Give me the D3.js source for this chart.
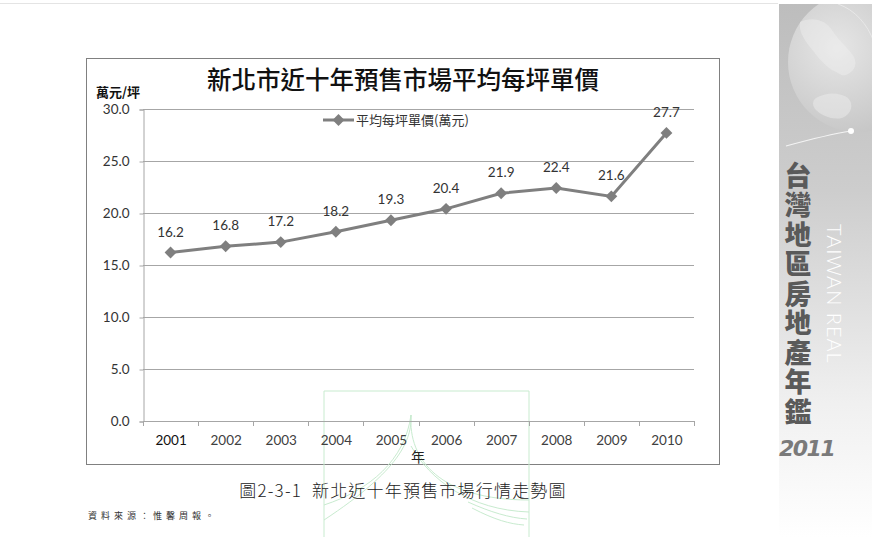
<!DOCTYPE html>
<html>
<head>
<meta charset="utf-8">
<script src="https://cdn.jsdelivr.net/npm/d3@7"></script>
<style>
  body { margin: 0; background: #fff; }
  svg { display: block; }
  .tick text { font-family: Lato, "Open Sans", sans-serif; }
</style>
</head>
<body>
<div id="chart"></div>
<script>
// data
const years = ["2001", "2002", "2003", "2004", "2005", "2006", "2007", "2008", "2009", "2010"];
const prices = [16.2, 16.8, 17.2, 18.2, 19.3, 20.4, 21.9, 22.4, 21.6, 27.7];
const yTicks = [0, 5, 10, 15, 20, 25, 30];
const sideTitle = "台灣地區房地產年鑑";

const W = 872, H = 537;
const cjk = '"Noto Sans CJK TC", "Noto Sans CJK SC", sans-serif';

const svg = d3.select("#chart").append("svg")
    .attr("width", W)
    .attr("height", H);

const defs = svg.append("defs");

// ---- page decorations ----
svg.append("line")
    .attr("x1", 0).attr("x2", 778)
    .attr("y1", 3.5).attr("y2", 3.5)
    .attr("stroke", "#e4e4e4");

// side bar gradient
const sideGrad = defs.append("linearGradient")
    .attr("id", "sideGrad")
    .attr("x1", 0).attr("y1", 0).attr("x2", 0).attr("y2", 1);
sideGrad.append("stop").attr("offset", "0%").attr("stop-color", "#bdbdbd");
sideGrad.append("stop").attr("offset", "35%").attr("stop-color", "#cdcdcd");
sideGrad.append("stop").attr("offset", "75%").attr("stop-color", "#f0f0f0");
sideGrad.append("stop").attr("offset", "100%").attr("stop-color", "#ffffff");

svg.append("rect")
    .attr("x", 779).attr("y", 4)
    .attr("width", W - 779).attr("height", H - 4)
    .attr("fill", "url(#sideGrad)");

// globe
const globeGrad = defs.append("radialGradient")
    .attr("id", "globeGrad")
    .attr("cx", "35%").attr("cy", "40%").attr("r", "65%");
globeGrad.append("stop").attr("offset", "0%").attr("stop-color", "#e6e6e6");
globeGrad.append("stop").attr("offset", "100%").attr("stop-color", "#c6c6c6");

const side = svg.append("g");
side.append("clipPath").attr("id", "sideClip")
    .append("rect").attr("x", 779).attr("y", 4).attr("width", 93).attr("height", 200);
const globe = side.append("g").attr("clip-path", "url(#sideClip)");
globe.append("circle")
    .attr("cx", 858).attr("cy", 62).attr("r", 70)
    .attr("fill", "url(#globeGrad)");
// rough continents
globe.append("path")
    .attr("d", "M800,22 C812,16 826,20 832,30 C838,40 846,46 852,54 C858,62 856,70 848,74 C842,78 838,72 832,70 C826,66 820,60 814,52 C808,44 798,34 800,22 Z")
    .attr("fill", "#f0f0f0").attr("opacity", 0.45);
globe.append("path")
    .attr("d", "M816,98 C826,92 840,92 848,98 C854,104 852,114 842,118 C832,120 822,116 816,110 C812,106 812,101 816,98 Z")
    .attr("fill", "#f0f0f0").attr("opacity", 0.45);
globe.append("path")
    .attr("d", "M786,146 C808,140 832,134 851,131")
    .attr("fill", "none").attr("stroke", "#f4f4f4").attr("stroke-width", 1.2);
globe.append("path")
    .attr("d", "M838,4 C872,16 888,60 876,110")
    .attr("fill", "none").attr("stroke", "#e8e8e8").attr("stroke-width", 1);
globe.append("circle")
    .attr("cx", 851).attr("cy", 131).attr("r", 3)
    .attr("fill", "#ffffff");

side.append("text")
    .attr("x", 798).attr("y", 162)
    .attr("writing-mode", "tb")
    .attr("font-family", cjk)
    .attr("font-weight", 900)
    .attr("font-size", 27)
    .attr("letter-spacing", 2.5)
    .attr("fill", "#5a5a5a")
    .text(sideTitle);

side.append("text")
    .attr("transform", "translate(827,224) rotate(90)")
    .attr("font-family", "Lato, sans-serif")
    .attr("font-weight", 300)
    .attr("font-size", 20)
    .attr("letter-spacing", 1)
    .attr("fill", "#ffffff")
    .text("TAIWAN REAL");

side.append("text")
    .attr("x", 779).attr("y", 456)
    .attr("font-family", '"DejaVu Sans", sans-serif')
    .attr("font-weight", "bold")
    .attr("font-style", "italic")
    .attr("font-size", 22)
    .attr("letter-spacing", -1.5)
    .attr("fill", "#7a7a7a")
    .text("2011");

// ---- chart frame ----
svg.append("rect")
    .attr("x", 86.5).attr("y", 58.5)
    .attr("width", 633).attr("height", 406)
    .attr("fill", "#ffffff")
    .attr("stroke", "#808080")
    .attr("stroke-width", 1);

// scales
const x = d3.scaleBand().domain(years).range([143, 694]);
const y = d3.scaleLinear().domain([0, 30]).range([421, 109]);

// gridlines
svg.append("g")
    .selectAll("line")
    .data(yTicks.filter(d => d > 0))
    .join("line")
    .attr("x1", 143).attr("x2", 694)
    .attr("y1", d => Math.round(y(d)) + 0.5)
    .attr("y2", d => Math.round(y(d)) + 0.5)
    .attr("stroke", "#a6a6a6");

// faint green watermark (sits over the chart in the reference)
const wm = svg.append("g")
    .attr("fill", "none")
    .attr("stroke", "#c8ebcf")
    .attr("stroke-width", 1);
wm.append("path").attr("d", "M324,537 V391 H529 V537");
wm.append("path").attr("d", "M324,505 C370,490 405,460 411,415 C412,440 400,470 324,520");
wm.append("path").attr("d", "M411,415 C408,460 440,500 529,500");
wm.append("path").attr("d", "M411,446 C430,480 470,510 529,512");
wm.append("path").attr("d", "M468,502 C490,512 510,518 527,519");
wm.append("path").attr("d", "M472,508 C495,520 510,524 524,525");

// y axis
const yAxis = svg.append("g")
    .attr("transform", "translate(143.5,0.5)")
    .call(d3.axisLeft(y).tickValues(yTicks).tickFormat(d3.format(".1f")).tickSize(4).tickPadding(10));
yAxis.select(".domain").attr("stroke", "#a6a6a6");
yAxis.selectAll(".tick line").attr("stroke", "#a6a6a6");
yAxis.selectAll(".tick text")
    .attr("font-size", 13.5)
    .attr("fill", "#333");

// x axis
const xAxis = svg.append("g")
    .attr("transform", "translate(0.5,421.5)")
    .call(d3.axisBottom(x).tickSize(0).tickPadding(14));
xAxis.select(".domain").attr("stroke", "#a6a6a6").attr("d", "M143,0H694");
xAxis.selectAll(".tick text")
    .attr("font-size", 13.5)
    .attr("fill", "#404040");
xAxis.selectAll(".tick text").filter(d => d === "2001")
    .attr("fill", "#111");

// band boundary ticks
svg.append("g")
    .selectAll("line")
    .data(years.map(d => x(d)).concat([x.range()[1]]))
    .join("line")
    .attr("x1", d => Math.round(d) + 0.5)
    .attr("x2", d => Math.round(d) + 0.5)
    .attr("y1", 421).attr("y2", 426)
    .attr("stroke", "#a6a6a6");

// line + markers
const cx = d => x(d) + x.bandwidth() / 2;
const line = d3.line()
    .x((d, i) => cx(years[i]))
    .y(d => y(d));

svg.append("path")
    .datum(prices)
    .attr("d", line)
    .attr("fill", "none")
    .attr("stroke", "#7f7f7f")
    .attr("stroke-width", 3);

const diamond = d3.symbol().type(d3.symbolDiamond2).size(90);
svg.append("g")
    .selectAll("path")
    .data(prices)
    .join("path")
    .attr("transform", (d, i) => `translate(${cx(years[i])},${y(d)})`)
    .attr("d", diamond)
    .attr("fill", "#7f7f7f");

// data labels
svg.append("g")
    .selectAll("text")
    .data(prices)
    .join("text")
    .attr("x", (d, i) => cx(years[i]))
    .attr("y", d => y(d) - 16)
    .attr("text-anchor", "middle")
    .attr("font-family", "Lato, sans-serif")
    .attr("font-size", 13.5)
    .attr("fill", "#333")
    .text(d => d.toFixed(1));

// titles
svg.append("text")
    .attr("x", 403).attr("y", 89)
    .attr("text-anchor", "middle")
    .attr("font-family", cjk)
    .attr("font-weight", 500)
    .attr("font-size", 24.5)
    .attr("fill", "#111")
    .text("新北市近十年預售市場平均每坪單價");

svg.append("text")
    .attr("x", 96).attr("y", 97)
    .attr("font-family", cjk)
    .attr("font-weight", 700)
    .attr("font-size", 13)
    .attr("fill", "#111")
    .text("萬元/坪");

svg.append("text")
    .attr("x", 418).attr("y", 462)
    .attr("text-anchor", "middle")
    .attr("font-family", cjk)
    .attr("font-size", 14)
    .attr("fill", "#222")
    .text("年");

// legend
const legend = svg.append("g").attr("transform", "translate(323,120)");
legend.append("line")
    .attr("x1", 0).attr("x2", 31)
    .attr("stroke", "#7f7f7f").attr("stroke-width", 3);
legend.append("path")
    .attr("transform", "translate(15.5,0)")
    .attr("d", diamond)
    .attr("fill", "#7f7f7f");
legend.append("text")
    .attr("x", 33).attr("y", 5)
    .attr("font-family", cjk)
    .attr("font-size", 13)
    .attr("fill", "#333")
    .text("平均每坪單價(萬元)");

// caption and source
svg.append("text")
    .attr("x", 403).attr("y", 497)
    .attr("text-anchor", "middle")
    .attr("font-family", cjk)
    .attr("font-weight", 300)
    .attr("font-size", 17)
    .attr("letter-spacing", 1.2)
    .attr("fill", "#222")
    .text("圖2-3-1\u00a0\u00a0新北近十年預售市場行情走勢圖");

svg.append("text")
    .attr("x", 88).attr("y", 519)
    .attr("font-family", cjk)
    .attr("font-size", 9)
    .attr("letter-spacing", 4)
    .attr("fill", "#333")
    .text("資料來源：惟馨周報。");
</script>
</body>
</html>
